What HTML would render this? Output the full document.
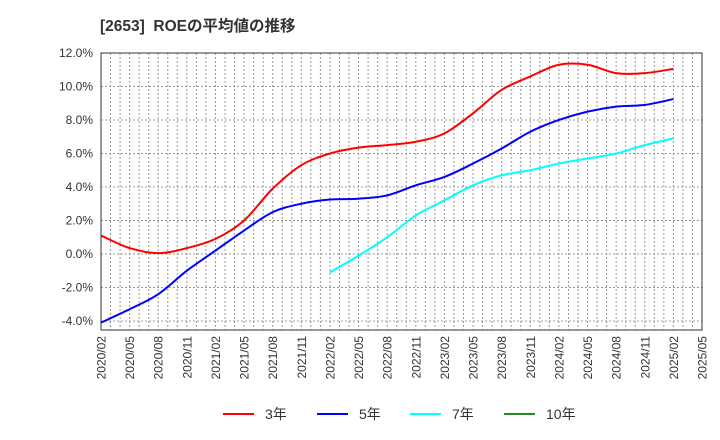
<!DOCTYPE html>
<html><head><meta charset="utf-8">
<style>
body{margin:0;background:#fff;}
svg{display:block;font-family:"Liberation Sans","Noto Sans CJK JP",sans-serif;}
</style></head>
<body>
<svg id="chart" width="720" height="440" viewBox="0 0 720 440">
<text x="100" y="31" font-size="15.5" font-weight="bold" fill="#333">[2653]&#160;&#160;ROEの平均値の推移</text>
<g id="grid"></g>
<g id="axes"></g>
<g id="series"></g>
<g id="legend"></g>
</svg>
<script>
const quarterLabels=["2020/02","2020/05","2020/08","2020/11","2021/02","2021/05","2021/08","2021/11","2022/02","2022/05","2022/08","2022/11","2023/02","2023/05","2023/08","2023/11","2024/02","2024/05","2024/08","2024/11","2025/02","2025/05"];
const yTicks=[-4,-2,0,2,4,6,8,10,12];
const roe3=[1.1,0.35,0.05,0.35,0.9,2.0,3.9,5.3,6.0,6.35,6.5,6.7,7.2,8.4,9.8,10.6,11.3,11.3,10.8,10.8,11.05];
const roe5=[-4.1,-3.3,-2.4,-1.0,0.2,1.4,2.5,3.0,3.25,3.3,3.5,4.1,4.6,5.4,6.3,7.3,8.0,8.5,8.8,8.9,9.25];
const roe7=[null,null,null,null,null,null,null,null,-1.1,-0.1,1.0,2.3,3.2,4.1,4.7,5.0,5.4,5.7,6.0,6.5,6.9];
const roe10=[];
const NS="http://www.w3.org/2000/svg";
const L=101,R=702,T=53,B=330,yMin=-4.54,yMax=12;
const xq=i=>L+i*(R-L)/(quarterLabels.length-1);
const xm=m=>L+m*(R-L)/((quarterLabels.length-1)*3);
const y=v=>B-(v-yMin)/(yMax-yMin)*(B-T);
function mk(tag,attrs,parent){const e=document.createElementNS(NS,tag);for(const k in attrs)e.setAttribute(k,attrs[k]);parent.appendChild(e);return e;}
const grid=document.getElementById('grid'),axes=document.getElementById('axes'),ser=document.getElementById('series'),leg=document.getElementById('legend');
for(let m=1;m<(quarterLabels.length-1)*3;m++){
 const l=mk('line',{x1:xm(m),x2:xm(m),y1:T,y2:B,stroke:'#999','stroke-width':1,'stroke-dasharray':'2,2'},grid);
 
 
}
yTicks.forEach(v=>{
 const l=mk('line',{x1:L,x2:R,y1:y(v),y2:y(v),stroke:'#999','stroke-width':1,'stroke-dasharray':'2,2'},grid);
 
 
 const t=mk('text',{x:L-8,y:y(v)+4,'text-anchor':'end','font-size':12,fill:'#333'},axes);
 t.textContent=v.toFixed(1)+'%';
 
 
});
const fr=mk('rect',{x:L,y:T,width:R-L,height:B-T,fill:'none',stroke:'#333','stroke-width':1},axes);


quarterLabels.forEach((s,i)=>{
 const t=mk('text',{x:0,y:0,'text-anchor':'end','font-size':12,fill:'#333',transform:`translate(${xq(i)+4.5},${B+6}) rotate(-90)`},axes);
 t.textContent=s;
 
 
});
function path(arr){
 const pts=[];arr.forEach((v,i)=>{if(v!=null)pts.push([xq(i),y(v)]);});
 if(pts.length<2)return '';
 let d=`M${pts[0][0]},${pts[0][1]}`;
 for(let i=0;i<pts.length-1;i++){
  const p0=pts[i-1]||pts[i],p1=pts[i],p2=pts[i+1],p3=pts[i+2]||p2;
  const c1=[p1[0]+(p2[0]-p0[0])/6,p1[1]+(p2[1]-p0[1])/6],c2=[p2[0]-(p3[0]-p1[0])/6,p2[1]-(p3[1]-p1[1])/6];
  d+=` C${c1[0]},${c1[1]} ${c2[0]},${c2[1]} ${p2[0]},${p2[1]}`;
 }
 return d;
}
const series=[[roe3,'#ff0000','line-3yr','3年'],[roe5,'#0000ff','line-5yr','5年'],[roe7,'#00ffff','line-7yr','7年'],[roe10,'#228b22','line-10yr','10年']];
const lx=[223,317,410,504];
series.forEach((s,k)=>{
 const d=path(s[0]);
 if(d){const p=mk('path',{d:d,fill:'none',stroke:s[1],'stroke-width':2},ser);
  
  }
 const g=mk('g',{},leg);
 
 
 mk('line',{x1:lx[k],x2:lx[k]+31,y1:414,y2:414,stroke:s[1],'stroke-width':2},g);
 const t=mk('text',{x:lx[k]+42,y:419,'font-size':14,fill:'#333'},g);
 t.textContent=s[3];
});
</script>
</body></html>
